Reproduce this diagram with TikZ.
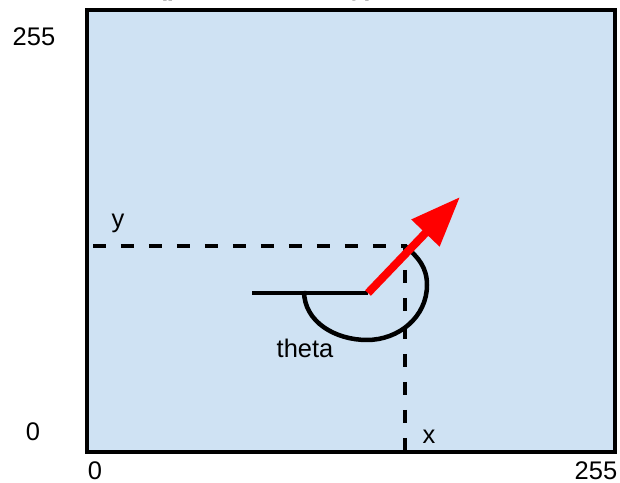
\documentclass[tikz,border=0pt]{standalone}
\usepackage{fontspec}
\setmainfont{Liberation Sans}
\usetikzlibrary{arrows.meta}
\definecolor{boardfill}{RGB}{207,226,243}
\definecolor{headcol}{RGB}{255,0,0}

\begin{document}
\begin{tikzpicture}[x=0.02cm,y=0.02cm,
    lbl/.style={font=\fontsize{14.5}{16}\selectfont,anchor=base,inner sep=0pt},
    guide/.style={line width=0.09cm,dash pattern=on 0.26cm off 0.3cm}]
  \useasboundingbox (0,0) rectangle (620,483);
  % title, cut off by the page edge
  \node[lbl,font=\bfseries\fontsize{14.5}{16}\selectfont] (title) at (266,487) {(position of body)};
  \draw[line width=0.09cm,fill=boardfill] (87,31) rectangle (615,473);
  \node[lbl] (ymax) at (34,437) {255};
  \node[lbl] (ymin) at (33,42) {0};
  \node[lbl] (xmin) at (95,3) {0};
  \node[lbl] (xmax) at (596,3) {255};
  % position of the body
  \coordinate (pos) at (405,237);
  \coordinate (yend) at (93,237);
  \coordinate (xend) at (405,31);
  \draw[guide] (yend) -- (pos) -- (xend);
  \node[lbl] (ylbl) at (118,255) {y};
  \node[lbl] (xlbl) at (429,39) {x};
  % heading
  \coordinate (ref) at (252,190);
  \coordinate (body) at (368,190);
  \coordinate (tip) at (460,286);
  \draw[line width=0.09cm] (ref) -- (body);
  \draw[line width=0.09cm] (304,192) to[out=-90,in=180] (367,143)
     to[out=0,in=-90] (427,198) to[out=90,in=-40] (pos);
  \node[lbl] (theta) at (305,125) {theta};
  \draw[headcol,line width=0.16cm,-{Triangle[length=1cm,width=0.74cm]}] (body) -- (tip);
\end{tikzpicture}
\end{document}
